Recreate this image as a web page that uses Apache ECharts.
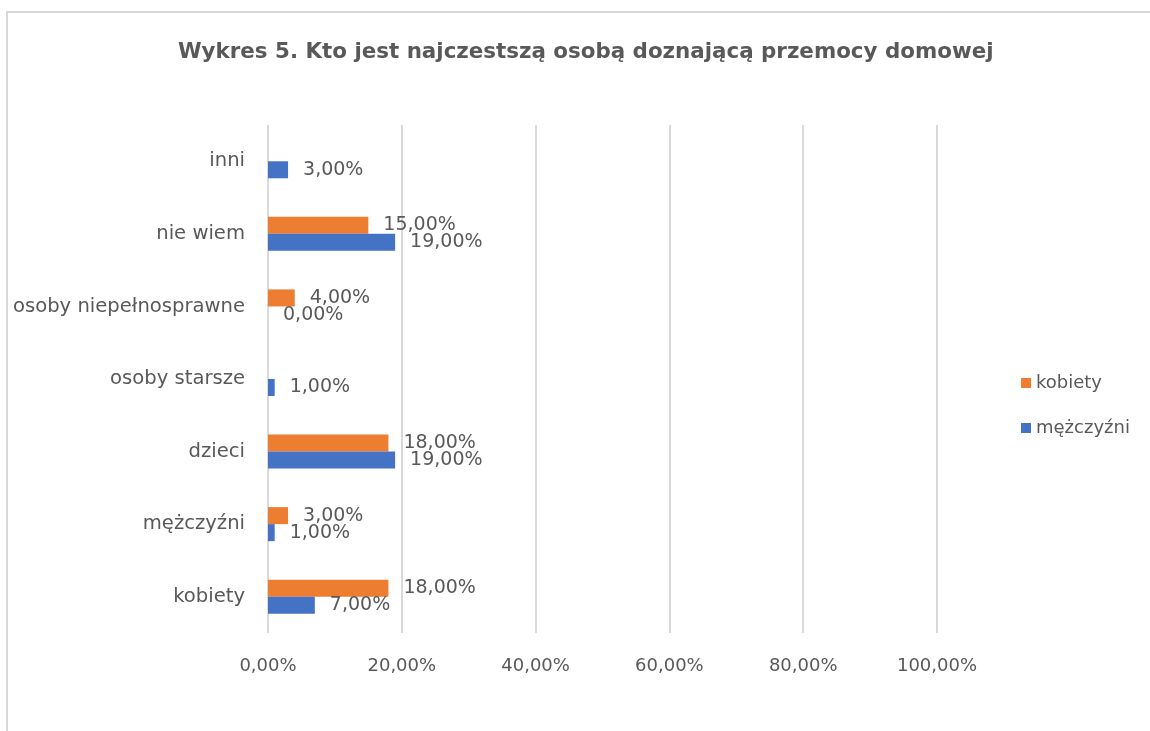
<!DOCTYPE html>
<html>
<head>
<meta charset="utf-8">
<script src="https://cdn.jsdelivr.net/npm/echarts@6/dist/echarts.min.js"></script>
<style>
  html, body { margin: 0; padding: 0; background: #fff; }
  #chart { width: 1150px; height: 731px; }
</style>
</head>
<body>
<div id="chart"></div>
<script>
// kategorie (od dołu do góry, jak w Excelu)
const categories = ["kobiety", "mężczyźni", "dzieci", "osoby starsze", "osoby niepełnosprawne", "nie wiem", "inni"]
// wartości w %
const kobietyValues = [18, 3, 18, null, 4, 15, null]
const mezczyzniValues = [7, 1, 19, 1, 0, 19, 3]
const seriesNames = ["kobiety", "mężczyźni"]
const titleText = "Wykres 5. Kto jest najczestszą osobą doznającą przemocy domowej"

const textColor = "#595959"
const fontFamily = "DejaVu Sans"

const fmtPct = v => v.toFixed(2).replace(".", ",") + "%"

const chart = echarts.init(document.getElementById("chart"))

const labelStyle = {
  show: true,
  position: "right",
  distance: 15,
  color: textColor,
  fontFamily: fontFamily,
  fontSize: 19,
  formatter: p => (p.value == null ? "" : fmtPct(p.value)),
}

const option = {
  animation: false,
  textStyle: { fontFamily: fontFamily },
  // ramka wykresu
  graphic: [
    {
      type: "rect",
      shape: { x: 7, y: 12, width: 1300, height: 900 },
      style: { fill: "none", stroke: "#d9d9d9", lineWidth: 2 },
      silent: true,
    },
  ],
  title: {
    text: titleText,
    left: 173,
    top: 37,
    textStyle: {
      color: textColor,
      fontFamily: fontFamily,
      fontSize: 21.4,
      fontWeight: "bold",
    },
  },
  legend: {
    data: seriesNames,
    orient: "vertical",
    left: 1016,
    top: 369,
    itemWidth: 10,
    itemHeight: 10,
    itemGap: 27,
    itemStyle: { borderWidth: 0 },
    icon: "rect",
    textStyle: { color: textColor, fontSize: 18, fontFamily: fontFamily },
  },
  grid: {
    left: 268,
    right: 213,
    top: 125,
    bottom: 98,
  },
  xAxis: {
    type: "value",
    min: 0,
    max: 100,
    interval: 20,
    axisLine: { show: false },
    axisTick: { show: false },
    splitLine: { lineStyle: { color: "#d9d9d9", width: 2 } },
    axisLabel: {
      color: textColor,
      fontSize: 18,
      margin: 24,
      formatter: v => fmtPct(v),
    },
  },
  yAxis: {
    type: "category",
    data: categories,
    axisLine: { show: false },
    axisTick: { show: false },
    axisLabel: { color: textColor, fontSize: 19.6, margin: 23 },
  },
  series: [
    {
      name: "kobiety",
      type: "bar",
      data: kobietyValues,
      barWidth: 17,
      barGap: "0%",
      itemStyle: { color: "#ED7D31" },
      label: labelStyle,
    },
    {
      name: "mężczyźni",
      type: "bar",
      data: mezczyzniValues,
      barWidth: 17,
      barGap: "0%",
      itemStyle: { color: "#4472C4" },
      label: labelStyle,
    },
  ],
}

chart.setOption(option)
</script>
</body>
</html>
